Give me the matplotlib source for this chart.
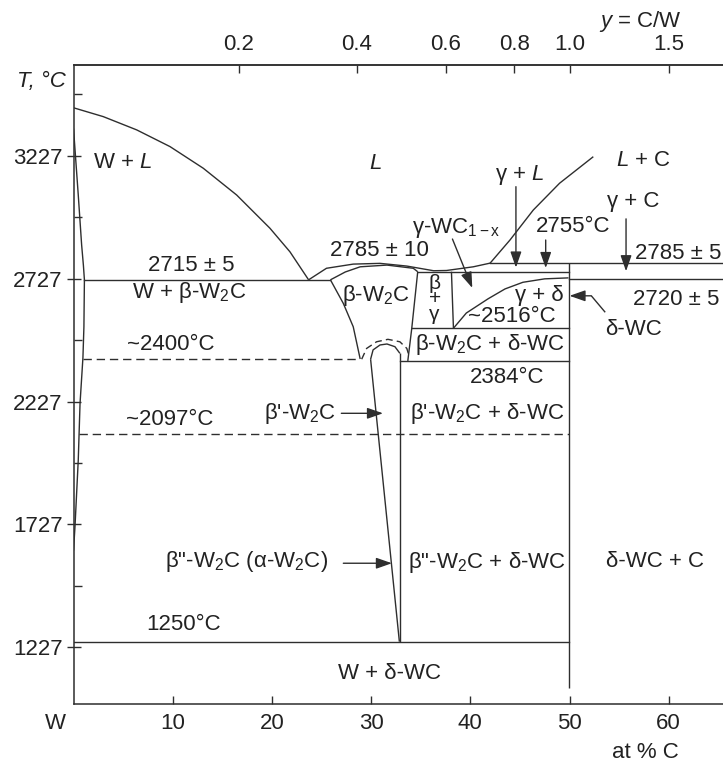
import matplotlib
matplotlib.use('Agg')
import matplotlib.pyplot as plt

plt.rcParams['font.family'] = ['Liberation Sans', 'DejaVu Sans']
plt.rcParams['mathtext.fontset'] = 'custom'
plt.rcParams['mathtext.rm'] = 'Liberation Sans'
plt.rcParams['mathtext.it'] = 'Liberation Sans:italic'
plt.rcParams['mathtext.bf'] = 'Liberation Sans:bold'

# ---------------- data (at% C, T in deg C) ----------------
liq_w_c = [0, 3.0, 6.37, 9.73, 13.08, 16.45, 19.8, 21.82, 23.7]
liq_w_t = [3422, 3386, 3332, 3264, 3176, 3067, 2932, 2836, 2722]

sol_w_c = [0, 0.48, 0.82, 1.0, 1.1, 1.05, 0.95, 0.66, 0.48, 0.15, 0]
sol_w_t = [3338, 3067, 2864, 2780, 2722, 2531, 2405, 2220, 1989, 1718, 1620]

liq_mid_c = [23.7, 25.5, 28.2, 30.9, 33.6, 36.3, 37.6, 40.3, 42.0]
liq_mid_t = [2722, 2769, 2786, 2789, 2778, 2759, 2760, 2775, 2790]

sol_b_c = [25.9, 27.4, 28.9, 31.6, 34.25, 34.7]
sol_b_t = [2722, 2754, 2775, 2782, 2769, 2755]

beta_left_c = [25.9, 27.2, 28.2, 28.9]
beta_left_t = [2722, 2626, 2531, 2400]

beta_right_c = [34.7, 34.1, 33.7]
beta_right_t = [2755, 2525, 2392]

gamma_left_c = [38.1, 38.3]
gamma_left_t = [2755, 2525]

gamma_delta_c = [38.3, 39.6, 41.8, 43.5, 45.3, 47.5, 49.9]
gamma_delta_t = [2525, 2587, 2645, 2685, 2712, 2726, 2730]

liq_c_c = [42.0, 44.0, 46.35, 49.0, 52.4]
liq_c_t = [2790, 2884, 3006, 3115, 3223]

col_left_c = [29.95, 32.85]
col_left_t = [2399, 1250]
col_right_c = [32.9, 32.9]
col_right_t = [2423, 1250]

arc_c = [29.95, 30.2, 30.9, 31.6, 32.4, 32.9]
arc_t = [2399, 2437, 2457, 2461, 2450, 2423]

dome_c = [29.05, 29.55, 30.55, 31.7, 32.9, 33.6, 33.85]
dome_t = [2399, 2443, 2470, 2480, 2470, 2443, 2409]

wc_line_c = [49.9, 49.9]
wc_line_t = [2790, 1060]

# horizontal invariant lines: (T, C_start, C_end)
iso_solid = [(2722, 1.1, 25.9), (2790, 42.0, 70), (2755, 34.7, 49.9),
             (2724, 49.9, 70), (2525, 34.1, 49.9), (2392, 32.9, 49.9),
             (1250, 0, 49.9)]
iso_dashed = [(2400, 0.95, 28.9), (2095, 0.6, 49.9)]

y_ticks = [1227, 1727, 2227, 2727, 3227]
y_minor = [1477, 1977, 2477, 2977, 3477]
x_ticks = [10, 20, 30, 40, 50, 60]
top_ticks = [0.2, 0.4, 0.6, 0.8, 1.0, 1.5]
top_labels = ['0.2', '0.4', '0.6', '0.8', '1.0', '1.5']

labels = [
    ('W + $L$', 4.9, 3201), ('$L$', 30.4, 3196), ('$L$ + C', 57.5, 3209),
    ('γ + $L$', 45.0, 3148), ('γ-WC$_{\\mathrm{1\u2212x}}$', 38.6, 2933),
    ('2755°C', 50.35, 2937), ('γ + C', 56.4, 3039),
    ('2785 ± 10', 30.8, 2843), ('2715 ± 5', 11.85, 2782),
    ('W + β-W$_2$C', 11.7, 2672), ('~2400°C', 9.8, 2457),
    ('β-W$_2$C', 30.5, 2660),
    ('γ + δ', 47.0, 2660), ('~2516°C', 44.2, 2571),
    ('β-W$_2$C + δ-WC', 42.0, 2457), ('2384°C', 43.7, 2323),
    ('δ-WC', 56.5, 2518), ('~2097°C', 9.7, 2152),
    ("β'-W$_2$C", 22.8, 2179), ("β'-W$_2$C + δ-WC", 41.7, 2180),
    ('β"-W$_2$C (α-W$_2$C)', 17.4, 1575), ('β"-W$_2$C + δ-WC', 41.7, 1570),
    ('δ-WC + C', 58.6, 1578), ('1250°C', 11.1, 1318), ('W + δ-WC', 31.9, 1122),
]
stack_label = ('β\n+\nγ', 36.4, 2645)
left_labels = [('2785 ± 5', 56.6, 2831), ('2720 ± 5', 56.4, 2640)]

# arrows: (start C, start T, tip C, tip T)
arrows = [(38.2, 2888, 40.2, 2689), (44.6, 3101, 44.6, 2772),
          (47.6, 2884, 47.6, 2770), (55.7, 2970, 55.7, 2757),
          (27.0, 2179, 31.2, 2179), (27.2, 1569, 32.1, 1569),
          (52.2, 2657, 50.0, 2657)]
dwc_lead_c = [53.6, 52.2]
dwc_lead_t = [2590, 2657]

# ---------------- drawing ----------------
lc = '#2e2e2e'
tc = '#222222'
lw = 1.0
fig = plt.figure(figsize=(7.23, 7.69), dpi=100)
W, H = 723, 769
ax = fig.add_axes([73.5 / W, (H - 703.5) / H, 9.92 * 70 / W, (703.5 - 65) / H])
ax.set_xlim(0, 70)
ax.set_ylim(998.4, 3596)

for c, t in [(liq_w_c, liq_w_t), (sol_w_c, sol_w_t), (liq_mid_c, liq_mid_t),
             (sol_b_c, sol_b_t), (beta_left_c, beta_left_t),
             (beta_right_c, beta_right_t), (gamma_left_c, gamma_left_t),
             (gamma_delta_c, gamma_delta_t), (liq_c_c, liq_c_t),
             (col_left_c, col_left_t), (col_right_c, col_right_t),
             (arc_c, arc_t), (wc_line_c, wc_line_t), (dwc_lead_c, dwc_lead_t)]:
    ax.plot(c, t, color=lc, lw=lw, solid_capstyle='butt', solid_joinstyle='round')

ax.plot(dome_c, dome_t, color=lc, lw=lw, ls=(0, (5, 3)))
for t, c0, c1 in iso_solid:
    ax.plot([c0, c1], [t, t], color=lc, lw=lw)
for t, c0, c1 in iso_dashed:
    ax.plot([c0, c1], [t, t], color=lc, lw=lw, ls=(0, (6, 3.5)))

fs = 16
for s, c, t in labels:
    ax.text(c, t, s, ha='center', va='center', fontsize=fs, color=tc)
s, c, t = stack_label
ax.text(c, t, s, ha='center', va='center', fontsize=fs - 1, color=tc,
        linespacing=0.78, multialignment='center')
for s, c, t in left_labels:
    ax.text(c, t, s, ha='left', va='center', fontsize=fs, color=tc, clip_on=False)

for c0, t0, c1, t1 in arrows:
    ax.annotate('', xy=(c1, t1), xytext=(c0, t0),
                arrowprops=dict(arrowstyle='-|>,head_length=0.8,head_width=0.28',
                                color=lc, lw=lw, mutation_scale=12,
                                shrinkA=0, shrinkB=0))

for sp in ax.spines.values():
    sp.set_color(lc)
    sp.set_linewidth(1.1)

ax.set_yticks(y_ticks)
ax.set_yticks(y_minor, minor=True)
ax.set_yticklabels([str(v) for v in y_ticks])
ax.set_xticks(x_ticks)
ax.set_xticklabels([str(v) for v in x_ticks])
ax.tick_params(axis='y', which='major', direction='inout', length=10, width=1.0,
               colors=lc, labelsize=fs, pad=3, labelcolor=tc)
ax.tick_params(axis='y', which='minor', direction='in', length=5.5, width=1.0, colors=lc)
ax.tick_params(axis='x', which='major', direction='in', length=6, width=1.0,
               colors=lc, labelsize=fs, pad=7, labelcolor=tc)

sec = ax.secondary_xaxis('top', functions=(lambda c: c / (100.0 - c),
                                           lambda y: 100.0 * y / (1.0 + y)))
sec.set_xticks(top_ticks)
sec.set_xticklabels(top_labels)
sec.tick_params(direction='in', length=6, width=1.0, colors=lc, labelsize=fs,
                pad=7, labelcolor=tc)
sec.spines['top'].set_color(lc)
sec.spines['top'].set_linewidth(1.1)

ax.text(-1.86, -0.0145, 'W', transform=ax.get_xaxis_transform(), ha='center',
        va='top', fontsize=fs, color=tc, clip_on=False)
fig.text(41 / W, 1 - 82 / H, 'T, °C', ha='center', va='center', fontsize=fs,
         fontstyle='italic', color=tc)
fig.text(640 / W, 1 - 21 / H, '$y$ = C/W', ha='center', va='center', fontsize=fs,
         color=tc)
fig.text(645 / W, 1 - 752 / H, 'at % C', ha='center', va='center', fontsize=fs,
         color=tc)

fig.savefig('out.png', dpi=100)
